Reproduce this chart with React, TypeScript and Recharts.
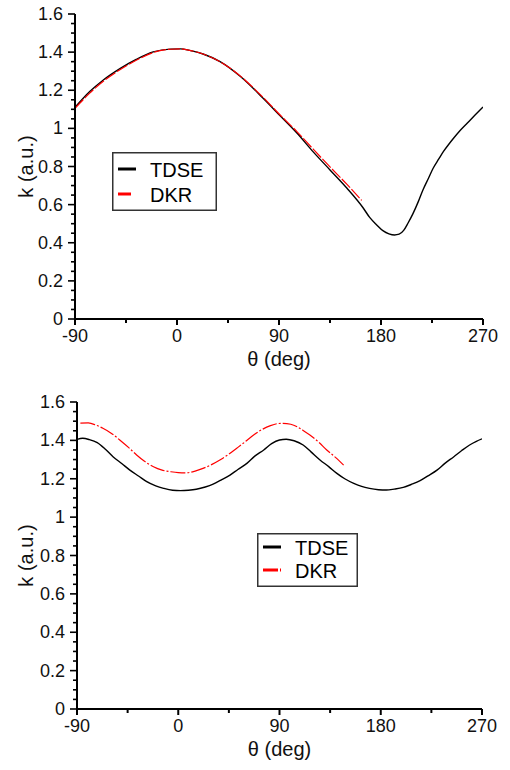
import React from 'react';
import { LineChart, Line, XAxis, YAxis, Legend, Label } from 'recharts';

// theta (deg), k (a.u.)
const topTdse: [number, number][] = [
  [-90, 1.11], [-77, 1.193], [-65, 1.254], [-50, 1.315], [-36, 1.362], [-21, 1.401], [-6, 1.416],
  [3, 1.417], [12, 1.408], [23, 1.39], [38, 1.35], [56, 1.272], [76, 1.158], [91, 1.066],
  [106, 0.974], [120, 0.878], [135, 0.782], [150, 0.686], [164, 0.585], [170, 0.533], [176, 0.495],
  [182, 0.462], [187, 0.447], [192, 0.441], [196, 0.445], [200, 0.465], [204, 0.505], [208, 0.55],
  [213, 0.617], [217, 0.677], [222, 0.74], [226, 0.791], [231, 0.84], [235, 0.878], [240, 0.918],
  [244, 0.948], [250, 0.99], [256, 1.027], [263, 1.07], [270, 1.112],
];
const topDkr: [number, number][] = [
  [-90, 1.105], [-77, 1.185], [-65, 1.247], [-50, 1.309], [-36, 1.357], [-21, 1.398], [-6, 1.415],
  [3, 1.417], [12, 1.408], [23, 1.39], [38, 1.35], [56, 1.274], [76, 1.162], [91, 1.07],
  [106, 0.982], [120, 0.892], [135, 0.798], [150, 0.706], [163, 0.622],
];
const bottomTdse: [number, number][] = [
  [-90, 1.405], [-85, 1.411], [-79, 1.404], [-72, 1.388], [-65, 1.355], [-58, 1.315], [-50, 1.278],
  [-43, 1.245], [-35, 1.213], [-28, 1.185], [-20, 1.163], [-13, 1.15], [-5, 1.14], [2, 1.138],
  [9, 1.14], [16, 1.145], [24, 1.157], [31, 1.172], [38, 1.193], [46, 1.219], [53, 1.248],
  [61, 1.28], [68, 1.318], [76, 1.35], [83, 1.383], [90, 1.402], [96, 1.406], [103, 1.398],
  [111, 1.376], [118, 1.34], [126, 1.298], [134, 1.262], [141, 1.228], [148, 1.2], [156, 1.176],
  [163, 1.16], [170, 1.15], [178, 1.143], [185, 1.141], [192, 1.146], [200, 1.155], [207, 1.17],
  [215, 1.19], [222, 1.215], [230, 1.245], [237, 1.28], [245, 1.315], [252, 1.347], [259, 1.376],
  [265, 1.395], [270, 1.408],
];
const bottomDkr: [number, number][] = [
  [-87, 1.49], [-80, 1.491], [-73, 1.479], [-67, 1.463], [-59, 1.435], [-52, 1.402], [-44, 1.362],
  [-37, 1.324], [-30, 1.291], [-22, 1.263], [-15, 1.246], [-7, 1.237], [0, 1.232], [7, 1.231],
  [15, 1.24], [22, 1.254], [30, 1.275], [37, 1.298], [45, 1.328], [52, 1.359], [60, 1.395],
  [67, 1.428], [74, 1.455], [82, 1.477], [88, 1.487], [93, 1.489], [100, 1.484], [106, 1.47],
  [112, 1.448], [117, 1.428], [125, 1.39], [132, 1.35], [140, 1.31], [147, 1.271],
];

const xMajor = [-90, 0, 90, 180, 270];
const xMinor = [-45, 45, 135, 225];
const yMajor = [0, 0.2, 0.4, 0.6, 0.8, 1, 1.2, 1.4, 1.6];
const yMinorStep = 0.05;

const xTicks = [...xMajor, ...xMinor].sort((a, b) => a - b);
const yTicks = Array.from({ length: Math.round(1.6 / yMinorStep) + 1 }, (_, i) => +(i * yMinorStep).toFixed(2));

const FONT = '"Liberation Sans", Arial, sans-serif';

const toRows = (s: [number, number][]) => s.map(([theta, k]) => ({ theta, k }));

const XTick = (props: any) => {
  const { x, y, payload } = props;
  const major = xMajor.includes(payload.value);
  return (
    <g>
      <line x1={x} x2={x} y1={y} y2={y + (major ? 6 : 4)} stroke="#000" strokeWidth={2} />
      {major && (
        <text x={x} y={y + 23} textAnchor="middle" fontSize={18} fontFamily={FONT} fill="#111">
          {payload.value}
        </text>
      )}
    </g>
  );
};

const YTick = (props: any) => {
  const { x, y, payload } = props;
  const major = yMajor.some((m) => Math.abs(m - payload.value) < 1e-6);
  return (
    <g>
      <line x1={x - (major ? 7 : 4)} x2={x} y1={y} y2={y} stroke="#000" strokeWidth={1.6} />
      {major && (
        <text x={x - 12} y={y + 6} textAnchor="end" fontSize={18} fontFamily={FONT} fill="#111">
          {String(payload.value)}
        </text>
      )}
    </g>
  );
};

const LegendBox = ({ w, h, dkrDash, rows }: { w: number; h: number; dkrDash: string; rows: number[] }) => (
  <svg width={w} height={h} style={{ display: 'block' }}>
    <rect x={0.75} y={0.75} width={w - 1.5} height={h - 1.5} fill="#fff" stroke="#333" strokeWidth={1.5} />
    <line x1={6} x2={24} y1={rows[0] - 8} y2={rows[0] - 8} stroke="#000" strokeWidth={3} />
    <text x={38} y={rows[0]} fontSize={20} fontFamily={FONT} fill="#000">TDSE</text>
    <line x1={6} x2={24} y1={rows[1] - 8} y2={rows[1] - 8} stroke="#ff0000" strokeWidth={3} strokeDasharray={dkrDash} />
    <text x={38} y={rows[1]} fontSize={20} fontFamily={FONT} fill="#000">DKR</text>
  </svg>
);

type PanelProps = {
  tdse: [number, number][];
  dkr: [number, number][];
  dash: string;
  legendDash: string;
  top: number;
  left: number;
  right: number;
  axisH: number;
  legend: { x: number; y: number; w: number; h: number; rows: number[] };
};

const Panel = ({ tdse, dkr, dash, legendDash, top, left, right, axisH, legend }: PanelProps) => (
  <LineChart width={510} height={385} margin={{ top, right, bottom: 0, left: 0 }}>
    <XAxis
      type="number"
      dataKey="theta"
      domain={[-90, 270]}
      ticks={xTicks}
      interval={0}
      height={axisH}
      tickSize={0}
      tickMargin={0}
      tick={XTick}
      axisLine={{ stroke: '#000', strokeWidth: 2 }}
      allowDataOverflow
    >
      <Label
        content={(p: any) => (
          <text
            x={p.viewBox.x + p.viewBox.width / 2}
            y={p.viewBox.y + 47}
            textAnchor="middle"
            fontSize={20}
            fontFamily={FONT}
            fill="#111"
          >
            θ (deg)
          </text>
        )}
      />
    </XAxis>
    <YAxis
      type="number"
      domain={[0, 1.6]}
      ticks={yTicks}
      interval={0}
      width={left}
      tickSize={0}
      tickMargin={0}
      tick={YTick}
      axisLine={{ stroke: '#000', strokeWidth: 2 }}
      allowDataOverflow
    >
      <Label
        content={(p: any) => {
          const cx = 26;
          const cy = p.viewBox.y + p.viewBox.height / 2;
          return (
            <text
              x={cx}
              y={cy}
              transform={`rotate(-90 ${cx} ${cy})`}
              textAnchor="middle"
              dominantBaseline="central"
              fontSize={20}
              fontFamily={FONT}
              fill="#111"
            >
              k (a.u.)
            </text>
          );
        }}
      />
    </YAxis>
    <Legend
      layout="vertical"
      align="center"
      verticalAlign="middle"
      wrapperStyle={{ left: legend.x, top: legend.y, width: legend.w, height: legend.h }}
      content={() => <LegendBox w={legend.w} h={legend.h} dkrDash={legendDash} rows={legend.rows} />}
    />
    <Line
      data={toRows(tdse)}
      dataKey="k"
      name="TDSE"
      type="monotone"
      stroke="#000"
      strokeWidth={1.4}
      dot={false}
      isAnimationActive={false}
    />
    <Line
      data={toRows(dkr)}
      dataKey="k"
      name="DKR"
      type="monotone"
      stroke="#ff0000"
      strokeWidth={1.2}
      strokeDasharray={dash}
      dot={false}
      isAnimationActive={false}
    />
  </LineChart>
);

export default function App() {
  return (
    <div style={{ position: 'absolute', left: 0, top: 0, width: 510, height: 770, background: '#fff' }}>
      <div style={{ position: 'absolute', left: 0, top: 0 }}>
        <Panel
          tdse={topTdse}
          dkr={topDkr}
          dash="12 2"
          legendDash="13 10"
          top={14}
          left={75}
          right={27}
          axisH={66}
          legend={{ x: 112, y: 152, w: 105, h: 59, rows: [25, 50] }}
        />
      </div>
      <div style={{ position: 'absolute', left: 0, top: 385 }}>
        <Panel
          tdse={bottomTdse}
          dkr={bottomDkr}
          dash="15 2 2 2"
          legendDash="15 2 2 2"
          top={17}
          left={77}
          right={28}
          axisH={61}
          legend={{ x: 257, y: 148, w: 101, h: 54, rows: [22, 45] }}
        />
      </div>
    </div>
  );
}
